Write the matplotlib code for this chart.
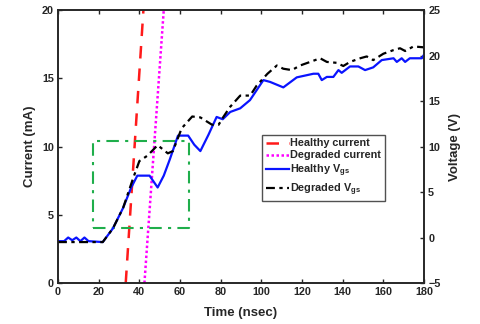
import numpy as np
import matplotlib.pyplot as plt

plt.rcParams['font.family'] = ['Liberation Sans', 'DejaVu Sans']
plt.rcParams['font.weight'] = 'bold'
plt.rcParams['mathtext.fontset'] = 'custom'
plt.rcParams['mathtext.bf'] = 'Liberation Sans:bold'
plt.rcParams['mathtext.rm'] = 'Liberation Sans:bold'
plt.rcParams['mathtext.default'] = 'bf'

# current traces (mA), straight ramps
healthy_i_t = [33.3, 42.0]
healthy_i = [0, 20]
degraded_i_t = [42.5, 52.0]
degraded_i = [0, 20]

# gate voltage traces (V)
healthy_v_t = [0, 3, 5, 7, 9, 11, 13, 15, 22, 27, 32, 36, 39, 45, 49, 52, 55, 59, 64,
               67, 70, 74, 78, 81, 84.7, 89.6, 94.4, 101, 104.3, 110.8, 117.4, 125.6,
               128, 129.7, 132.2, 135.4, 137.9, 139.5, 143.6, 147.7, 151, 155, 159.2,
               165, 166.6, 169, 170.7, 173, 178.9, 180]
healthy_v = [-0.4, -0.4, 0.0, -0.3, 0.0, -0.4, 0.0, -0.4, -0.5, 1.0, 3.25, 5.5, 6.8, 6.8,
             5.5, 6.8, 8.6, 11.2, 11.2, 10.2, 9.5, 11.3, 13.25, 13.0, 13.8, 14.2, 15.1,
             17.3, 17.1, 16.5, 17.6, 18.0, 18.0, 17.3, 17.65, 17.65, 18.4, 18.1, 18.8,
             18.8, 18.4, 18.7, 19.5, 19.7, 19.3, 19.7, 19.3, 19.7, 19.7, 20.1]

degraded_v_t = [0, 22, 27, 32, 37, 40, 44, 49, 54, 56.5, 60.8, 66, 70, 75.7, 79, 81.3,
                84.6, 89.6, 94.5, 97.7, 103, 107.6, 110.8, 115, 119, 124, 128.9, 132.2,
                137, 140.3, 143.6, 148.6, 151.8, 155, 160, 165, 168.2, 170.7, 174.8, 180]
degraded_v = [-0.5, -0.5, 1.0, 3.25, 6.55, 8.4, 9.0, 10.15, 9.25, 9.5, 12.0, 13.3, 13.2,
              12.4, 12.4, 13.25, 14.35, 15.6, 15.6, 16.7, 18.0, 18.9, 18.55, 18.4, 18.9,
              19.3, 19.7, 19.3, 19.2, 18.85, 19.3, 19.7, 19.9, 19.5, 20.2, 20.6, 20.8,
              20.5, 21.0, 20.9]

# zoom box (time, current)
box_t = [17, 64.5]
box_i = [4.0, 10.4]

txt = '#262626'

fig = plt.figure(figsize=(4.81, 3.24), dpi=100)
ax = fig.add_axes([0.1206, 0.1265, 0.761, 0.8425])
ax2 = ax.twinx()

l1, = ax.plot(healthy_i_t, healthy_i, color='#ff1a1a', ls=(0, (5, 4)), lw=1.8)
l2, = ax.plot(degraded_i_t, degraded_i, color='#ff00ff', ls=(0, (1, 1)), lw=1.8)
ax.plot([box_t[0], box_t[1], box_t[1], box_t[0], box_t[0]],
        [box_i[0], box_i[0], box_i[1], box_i[1], box_i[0]],
        color='#1fae4b', ls=(0, (6, 3, 1.5, 3)), lw=1.5)

l3, = ax2.plot(healthy_v_t, healthy_v, color='#0a14ff', lw=1.6)
l4, = ax2.plot(degraded_v_t, degraded_v, color='black', ls=(0, (4, 2, 1.5, 2)), lw=1.6)

ax.set_xlim(0, 180)
ax.set_ylim(0, 20)
ax2.set_ylim(-5, 25)
ax.set_xticks(np.arange(0, 181, 20))
ax.set_yticks([0, 5, 10, 15, 20])
ax2.set_yticks(np.arange(-5, 26, 5))

for a in (ax, ax2):
    a.tick_params(direction='in', length=3, width=1, labelsize=7.8, colors=txt, pad=3)
    for lab in a.get_xticklabels() + a.get_yticklabels():
        lab.set_fontweight('bold')
    for s in a.spines.values():
        s.set_color(txt)
        s.set_linewidth(1.2)
ax.tick_params(top=True)

ax.set_xlabel('Time (nsec)', fontsize=9.5, fontweight='bold', labelpad=7, color=txt)
ax.set_ylabel('Current (mA)', fontsize=9.5, fontweight='bold', labelpad=4, color=txt)
ax2.set_ylabel('Voltage (V)', fontsize=9.5, fontweight='bold', labelpad=6, color=txt)

leg = ax2.legend([l1, l2, l3, l4],
                 ['Healthy current', 'Degraded current', 'Healthy V$_{gs}$',
                  'Degraded V$_{gs}$'],
                 loc='upper left', bbox_to_anchor=(0.558, 0.542), borderaxespad=0,
                 fontsize=7.8, frameon=True, fancybox=False, handlelength=2.2,
                 handletextpad=0.1, labelspacing=0.2, borderpad=0.3)
leg.get_frame().set_edgecolor(txt)
leg.get_frame().set_linewidth(1.0)
for t in leg.get_texts():
    t.set_fontweight('bold')
    t.set_color(txt)

fig.savefig('out.png', dpi=100)
